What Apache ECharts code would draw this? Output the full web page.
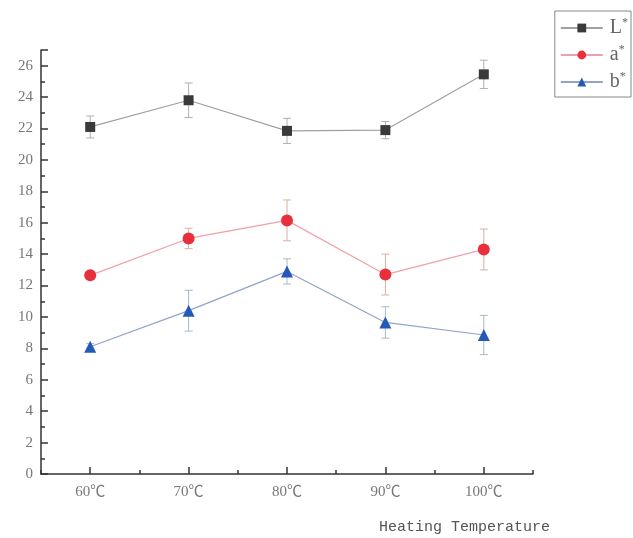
<!DOCTYPE html>
<html><head><meta charset="utf-8">
<script src="https://cdn.jsdelivr.net/npm/echarts@6/dist/echarts.min.js"></script>
<style>html,body{margin:0;padding:0;background:#fff}#c{width:633px;height:538px}</style>
</head><body><div id="c"></div>
<script>
var categories = ['60℃','70℃','80℃','90℃','100℃'];
var Lvals = [22.1, 23.8, 21.85, 21.9, 25.45];
var Lerr  = [0.7, 1.1, 0.8, 0.55, 0.9];
var Avals = [12.65, 15.0, 16.15, 12.7, 14.3];
var Aerr  = [0.2, 0.65, 1.3, 1.3, 1.3];
var Bvals = [8.1, 10.4, 12.9, 9.65, 8.85];
var Berr  = [0.2, 1.3, 0.8, 1.0, 1.25];
var yTicks = [0,2,4,6,8,10,12,14,16,18,20,22,24,26];

var names = ['L*','a*','b*'];
var vals = [Lvals, Avals, Bvals];
var errs = [Lerr, Aerr, Berr];
var markColors = ['#3a3a3a','#e8303c','#2459b8'];
var lineColors = ['#a0a0a0','#f0a0a8','#90a4c8'];
var errColors = ['#b0b0b0','#d8b0a0','#a8b8c8'];
var symbols = ['rect','circle','triangle'];
var sizes = [10, 12, 12];

var chart = echarts.init(document.getElementById('c'));
var series = [];
for (var s = 0; s < 3; s++) {
  (function(s){
    var ed = vals[s].map(function(v,i){ return [i, v - errs[s][i], v + errs[s][i]]; });
    series.push({
      type: 'custom', name: names[s] + '_err', silent: true, z: 1,
      data: ed,
      renderItem: function(params, api) {
        var x = api.value(0);
        var lo = api.coord([x, api.value(1)]);
        var hi = api.coord([x, api.value(2)]);
        var hw = 4;
        var st = {stroke: errColors[s], lineWidth: 1};
        return {type: 'group', children: [
          {type:'line', shape:{x1:lo[0],y1:lo[1],x2:hi[0],y2:hi[1]}, style: st},
          {type:'line', shape:{x1:lo[0]-hw,y1:lo[1],x2:lo[0]+hw,y2:lo[1]}, style: st},
          {type:'line', shape:{x1:hi[0]-hw,y1:hi[1],x2:hi[0]+hw,y2:hi[1]}, style: st}
        ]};
      }
    });
    series.push({
      type: 'line', name: names[s], data: vals[s], z: 3,
      symbol: symbols[s], symbolSize: sizes[s],
      itemStyle: {color: markColors[s]},
      lineStyle: {color: lineColors[s], width: 1.2}
    });
  })(s);
}

var labelFont = "'Liberation Serif','Noto Sans CJK SC'";

chart.setOption({
  animation: false,
  backgroundColor: '#fff',
  grid: {left: 41, right: 100, top: 50, bottom: 64, containLabel: false},
  legend: {
    data: names,
    orient: 'vertical',
    right: 2, top: 11,
    padding: [6, 3, 5, 5],
    itemGap: 6,
    itemWidth: 42, itemHeight: 11,
    borderColor: '#888', borderWidth: 1,
    backgroundColor: '#fff',
    textStyle: {fontFamily: 'Liberation Serif', fontSize: 20, color: '#666', padding: [0,0,0,2],
      rich: {sup: {fontFamily: 'Liberation Serif', fontSize: 12, color: '#666', verticalAlign: 'top', padding: [0,0,10,0]}}},
    formatter: function(n){ return n.charAt(0) + '{sup|*}'; }
  },
  xAxis: [{
    type: 'category', data: categories, boundaryGap: true,
    name: 'Heating Temperature', nameLocation: 'end',
    nameGap: 17,
    nameTextStyle: {fontFamily: 'Liberation Mono', fontSize: 15, color: '#555', align: 'right', verticalAlign: 'top', padding: [46, 0, 0, 0]},
    axisLine: {lineStyle: {color: '#333', width: 1.5}},
    axisTick: {show: true, inside: true, alignWithLabel: true, length: 7, lineStyle: {color: '#333', width: 1.5}},
    axisLabel: {fontFamily: labelFont, fontSize: 15, color: '#777', margin: 11},
    splitLine: {show: false}
  }, {
    type: 'category', data: categories, boundaryGap: true, position: 'bottom',
    axisLine: {show: false},
    axisTick: {show: true, inside: true, alignWithLabel: false, length: 4, lineStyle: {color: '#333', width: 1.5}},
    axisLabel: {show: false},
    splitLine: {show: false}
  }],
  yAxis: {
    type: 'value', min: 0, max: 27, interval: 2,
    axisLine: {show: true, lineStyle: {color: '#333', width: 1.5}},
    axisTick: {show: true, inside: true, length: 7, lineStyle: {color: '#333', width: 1.5}},
    minorTick: {show: true, splitNumber: 2, length: 4, lineStyle: {color: '#333', width: 1.5}},
    axisLabel: {fontFamily: labelFont, fontSize: 15, color: '#777', margin: 8,
      formatter: function(v){ return yTicks.indexOf(v) >= 0 ? String(v) : ''; }},
    splitLine: {show: false}
  },
  series: series
});
</script>
</body></html>
